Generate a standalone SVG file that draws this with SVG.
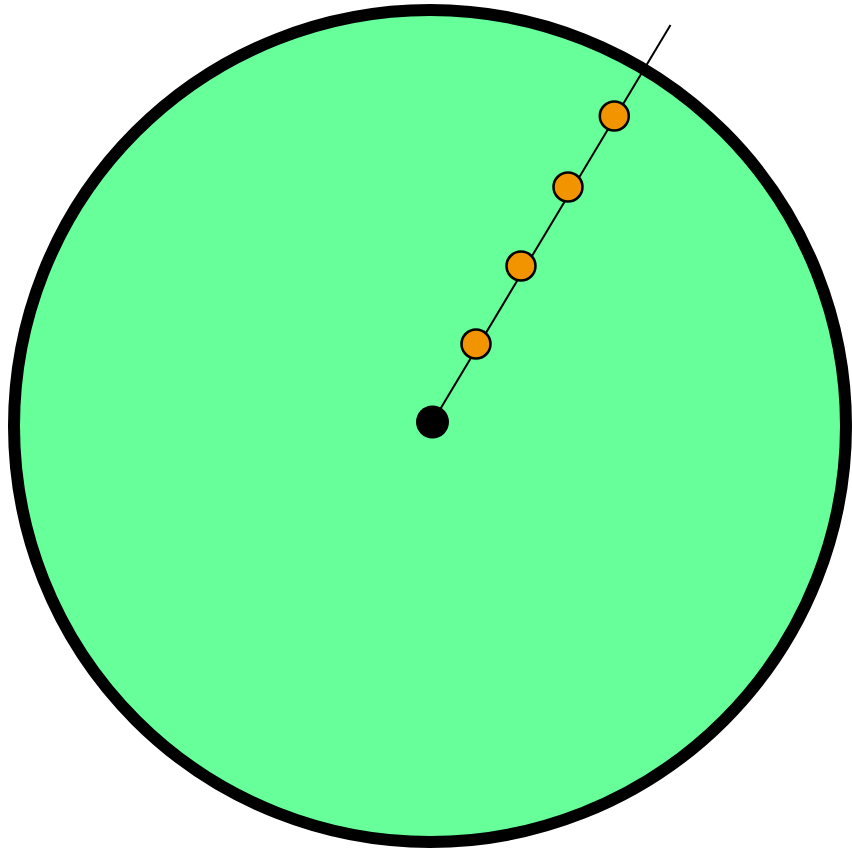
<svg xmlns="http://www.w3.org/2000/svg" width="852" height="850" viewBox="0 0 852 850">
  <style>
    .dot { fill: #f29400; stroke: #000; stroke-width: 2.5; }
  </style>
  <rect width="852" height="850" fill="#ffffff"/>
  <g id="disk">
    <circle cx="430" cy="426" r="416" fill="#66ff99" stroke="#000" stroke-width="12"/>
  </g>
  <g id="connectors">
    <line x1="432.5" y1="422" x2="670.5" y2="25" stroke="#000" stroke-width="2"/>
  </g>
  <g id="center">
    <circle cx="432.5" cy="422" r="16.5" fill="#000"/>
  </g>
  <g id="p1"><circle class="dot" cx="476" cy="344" r="14.5"/></g>
  <g id="p2"><circle class="dot" cx="521" cy="266" r="14.5"/></g>
  <g id="p3"><circle class="dot" cx="568" cy="187" r="14.5"/></g>
  <g id="p4"><circle class="dot" cx="614.3" cy="116" r="14.5"/></g>
</svg>
